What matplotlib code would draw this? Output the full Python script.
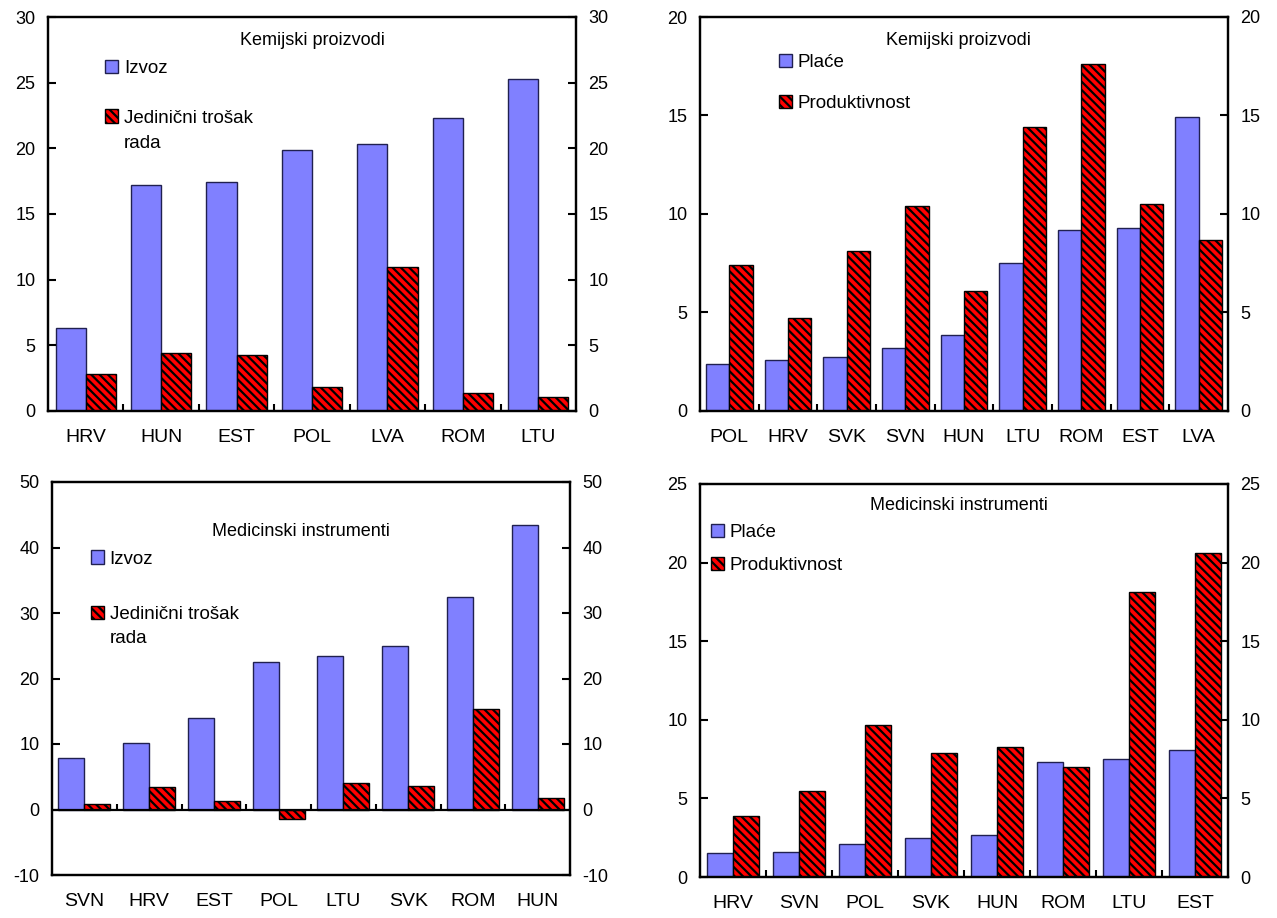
import numpy as np
import matplotlib
matplotlib.use("Agg")
import matplotlib.pyplot as plt

plt.rcParams['font.family'] = ['Liberation Sans', 'DejaVu Sans']
plt.rcParams['hatch.linewidth'] = 1.6
plt.rcParams['hatch.color'] = 'black'
plt.rcParams['axes.unicode_minus'] = False

# gornji lijevi: Kemijski proizvodi, izvoz vs. ULC
cat_kem1 = ['HRV', 'HUN', 'EST', 'POL', 'LVA', 'ROM', 'LTU']
izvoz_kem = [6.3, 17.2, 17.4, 19.9, 20.3, 22.3, 25.3]
ulc_kem = [2.8, 4.4, 4.3, 1.8, 11.0, 1.4, 1.1]

# gornji desni: Kemijski proizvodi, place vs. produktivnost
cat_kem2 = ['POL', 'HRV', 'SVK', 'SVN', 'HUN', 'LTU', 'ROM', 'EST', 'LVA']
place_kem = [2.4, 2.6, 2.75, 3.2, 3.85, 7.5, 9.2, 9.3, 14.9]
prod_kem = [7.4, 4.7, 8.1, 10.4, 6.1, 14.4, 17.6, 10.5, 8.7]

# donji lijevi: Medicinski instrumenti, izvoz vs. ULC
cat_med1 = ['SVN', 'HRV', 'EST', 'POL', 'LTU', 'SVK', 'ROM', 'HUN']
izvoz_med = [7.9, 10.1, 14.0, 22.5, 23.5, 25.0, 32.5, 43.5]
ulc_med = [0.8, 3.4, 1.3, -1.5, 4.1, 3.6, 15.3, 1.7]

# donji desni: Medicinski instrumenti, place vs. produktivnost
cat_med2 = ['HRV', 'SVN', 'POL', 'SVK', 'HUN', 'ROM', 'LTU', 'EST']
place_med = [1.5, 1.6, 2.1, 2.5, 2.7, 7.3, 7.5, 8.1]
prod_med = [3.9, 5.5, 9.7, 7.9, 8.3, 7.0, 18.1, 20.6]

BLUE = '#8080FF'
RED = '#FF0000'
W, H = 1277, 918


def panel(rect, cats, v1, v2, lab1, lab2, title, ylim, ystep,
          title_pos, leg_pos, leg_spacing, extra=None):
    ax = fig.add_axes(rect)
    x = np.arange(len(cats))
    ax.bar(x - 0.2, v1, 0.4, color=BLUE, edgecolor='#202050', linewidth=1.0, label=lab1)
    ax.bar(x + 0.2, v2, 0.4, color=RED, edgecolor='black', linewidth=1.0,
           hatch='\\\\\\\\', label=lab2)
    ax.set_xlim(-0.5, len(cats) - 0.5)
    ax.set_ylim(*ylim)
    yt = np.arange(ylim[0], ylim[1] + 0.1, ystep)
    ax.set_yticks(yt)
    ax.set_xticks(x)
    ax.set_xticklabels(cats)
    ax.tick_params(axis='x', which='major', length=0, pad=13, labelsize=14)
    ax.tick_params(axis='y', direction='in', length=6, width=1.5, pad=9, labelsize=13)
    bounds = np.arange(1, len(cats)) - 0.5
    if ylim[0] < 0:
        ax.axhline(0, color='black', linewidth=1.6)
        ax.vlines(bounds, 0, (ylim[1] - ylim[0]) * 0.014, color='black', linewidth=1.5)
    else:
        ax.set_xticks(bounds, minor=True)
        ax.tick_params(axis='x', which='minor', direction='in', length=5, width=1.5)
    for s in ax.spines.values():
        s.set_linewidth(1.6)
    ax2 = ax.twinx()
    ax2.set_ylim(*ylim)
    ax2.set_yticks(yt)
    ax2.tick_params(axis='y', direction='in', length=6, width=1.5, pad=9, labelsize=13)
    for s in ax2.spines.values():
        s.set_linewidth(1.6)
    ax.text(title_pos[0], title_pos[1], title, transform=ax.transAxes,
            ha='center', va='center', fontsize=13)
    ax.legend(loc='upper left', bbox_to_anchor=leg_pos, frameon=False,
              fontsize=13.5, handlelength=0.7, handleheight=0.7,
              handletextpad=0.3, labelspacing=leg_spacing, borderaxespad=0,
              borderpad=0)
    if extra:
        ax.text(extra[0], extra[1], extra[2], transform=ax.transAxes,
                ha='left', va='center', fontsize=13.5)
    return ax


def rect(l, t, r, b):
    return [l / W, 1 - b / H, (r - l) / W, (b - t) / H]


fig = plt.figure(figsize=(W / 100, H / 100), dpi=100)

panel(rect(48, 17, 576, 411), cat_kem1, izvoz_kem, ulc_kem,
      'Izvoz', 'Jedinični trošak', 'Kemijski proizvodi',
      (0, 30), 5, (0.5, 0.94), (0.108, 0.892), 1.75,
      extra=(0.143, 0.680, 'rada'))
panel(rect(700, 17, 1228, 411), cat_kem2, place_kem, prod_kem,
      'Plaće', 'Produktivnost', 'Kemijski proizvodi',
      (0, 20), 5, (0.49, 0.94), (0.15, 0.907), 1.27)
panel(rect(52, 482, 570, 875), cat_med1, izvoz_med, ulc_med,
      'Izvoz', 'Jedinični trošak', 'Medicinski instrumenti',
      (-10, 50), 10, (0.48, 0.873), (0.075, 0.826), 2.05,
      extra=(0.111, 0.603, 'rada'))
panel(rect(700, 484, 1228, 877), cat_med2, place_med, prod_med,
      'Plaće', 'Produktivnost', 'Medicinski instrumenti',
      (0, 25), 5, (0.49, 0.946), (0.02, 0.899), 0.85)

fig.savefig('out.png', dpi=100)
